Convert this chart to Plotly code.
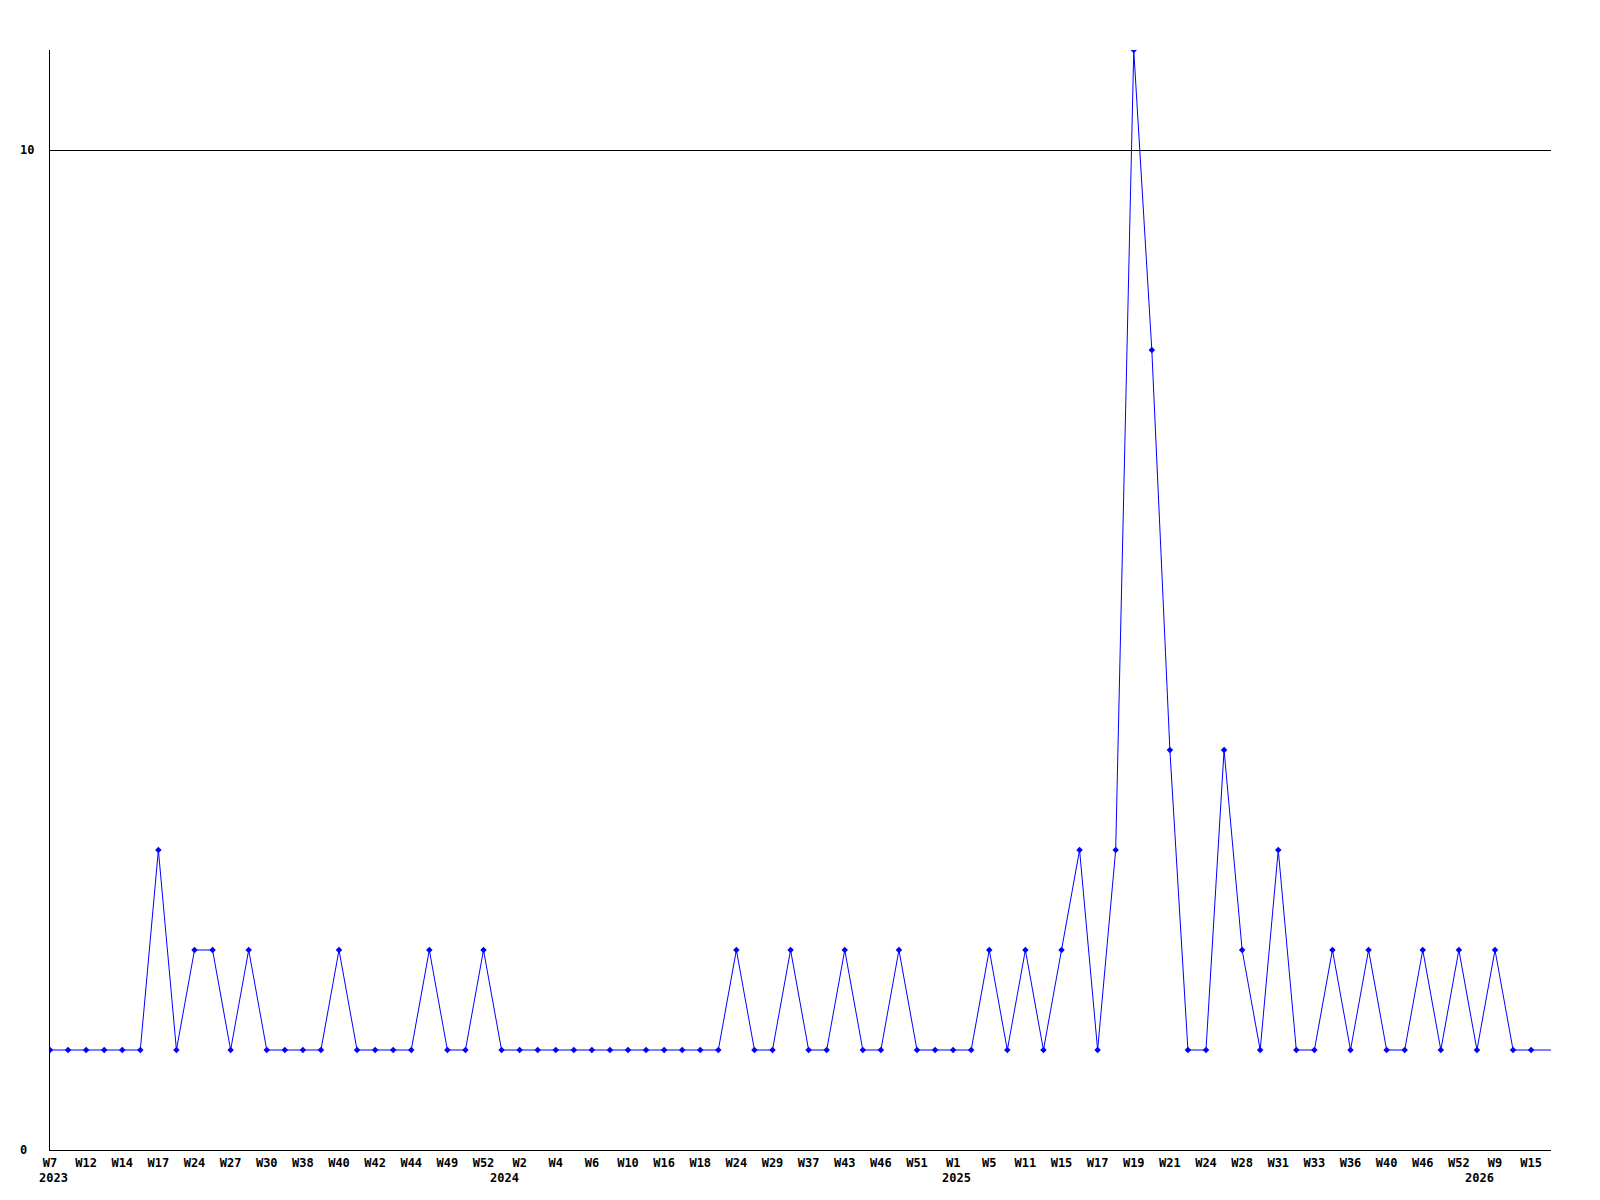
import plotly.graph_objects as go

# weekly counts, one point per week shown on the chart
values = [1, 1, 1, 1, 1, 1, 3, 1, 2, 2, 1, 2, 1, 1, 1, 1, 2, 1, 1, 1,
          1, 2, 1, 1, 2, 1, 1, 1, 1, 1, 1, 1, 1, 1, 1, 1, 1, 1, 2, 1,
          1, 2, 1, 1, 2, 1, 1, 2, 1, 1, 1, 1, 2, 1, 2, 1, 2, 3, 1, 3,
          11, 8, 4, 1, 1, 4, 2, 1, 3, 1, 1, 2, 1, 2, 1, 1, 2, 1, 2, 1,
          2, 1, 1]

# labels shown under every second point
week_labels = ["W7", "W12", "W14", "W17", "W24", "W27", "W30", "W38", "W40", "W42",
               "W44", "W49", "W52", "W2", "W4", "W6", "W10", "W16", "W18", "W24",
               "W29", "W37", "W43", "W46", "W51", "W1", "W5", "W11", "W15", "W17",
               "W19", "W21", "W24", "W28", "W31", "W33", "W36", "W40", "W46", "W52",
               "W9", "W15"]

years = ["2023", "2024", "2025", "2026"]
year_start = [0, 25, 50, 79]

y_ticks = [0, 10]

xs = list(range(len(values)))
x_end = 83.1
font = dict(family="DejaVu Sans Mono", size=12, color="black")

fig = go.Figure()
fig.add_trace(go.Scatter(
    x=xs, y=values, mode="lines+markers",
    line=dict(color="#0000ff", width=1),
    marker=dict(symbol="diamond", size=5, color="#0000ff"),
    showlegend=False, hoverinfo="skip",
))
# line runs on to the right edge at the last value
fig.add_shape(type="line", x0=xs[-1], x1=x_end, y0=values[-1], y1=values[-1],
              line=dict(color="#0000ff", width=1), layer="below")

for t in y_ticks:
    fig.add_annotation(x=0, xref="paper", xshift=-32, xanchor="left",
                       y=t, yref="y", text="<b>%d</b>" % t, showarrow=False, font=font)

for yr, i in zip(years, year_start):
    fig.add_annotation(x=i, xref="x", xshift=3, y=0, yref="paper", yshift=-19,
                       yanchor="top", text="<b>%s</b>" % yr, showarrow=False, font=font)

# page body has an 8px margin, so the figure is shrunk to fit the window
fig.update_layout(
    width=1592, height=1192,
    margin=dict(l=42, r=49, t=42, b=50),
    plot_bgcolor="white", paper_bgcolor="white",
    font=font,
    xaxis=dict(range=[0, x_end], tickvals=xs[::2],
               ticktext=["<b>%s</b>" % w for w in week_labels],
               showgrid=False, zeroline=False, showline=True, linecolor="black",
               linewidth=1, ticks="", tickfont=font, ticklabelstandoff=2,
               automargin=False),
    yaxis=dict(range=[0, 11], tickvals=y_ticks, showticklabels=False,
               showgrid=True, gridcolor="black", gridwidth=1, zeroline=False,
               showline=True, linecolor="black", linewidth=1, ticks="",
               automargin=False),
)

fig.write_html("out.html")
